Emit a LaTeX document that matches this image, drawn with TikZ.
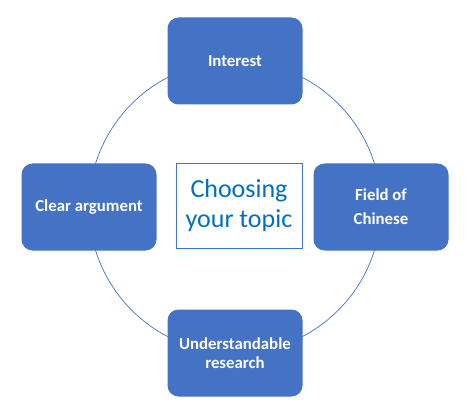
\documentclass[tikz,border=0pt]{standalone}
\usepackage{fontspec}
\setmainfont{Carlito}
\usepackage{xcolor}
\definecolor{boxblue}{HTML}{4472C4}
\definecolor{titleblue}{HTML}{0070C0}

\tikzset{
  topicbox/.style={draw=none,fill=boxblue,rounded corners=11pt,
    minimum width=135pt,minimum height=87pt,text=white,align=center,
    font=\fontsize{16.8}{19}\selectfont\bfseries},
  centerbox/.style={draw=boxblue,line width=0.8pt,fill=white,
    minimum width=126pt,minimum height=85pt,text=titleblue,align=center,
    font=\fontsize{26}{30}\selectfont},
  ring/.style={draw=boxblue,line width=0.7pt}
}

\begin{document}
\begin{tikzpicture}[x=1pt,y=-1pt]
  \useasboundingbox (0,0) rectangle (471,414);

  % ring behind the boxes
  \coordinate (hub) at (235,207);
  \draw[ring] (hub) circle[radius=146pt];

  % centre title
  \node[centerbox] (title) at (239,206) {Choosing\\your topic};

  % four boxes on the ring
  \node[topicbox] (interest) at (235,61) {Interest};
  \node[topicbox] (argument) at (89,207) {Clear argument};
  \node[topicbox,font=\fontsize{16.8}{24}\selectfont\bfseries] (field) at (381,207) {Field of\\Chinese};
  \node[topicbox] (research) at (235,353) {Understandable\\research};
\end{tikzpicture}
\end{document}
